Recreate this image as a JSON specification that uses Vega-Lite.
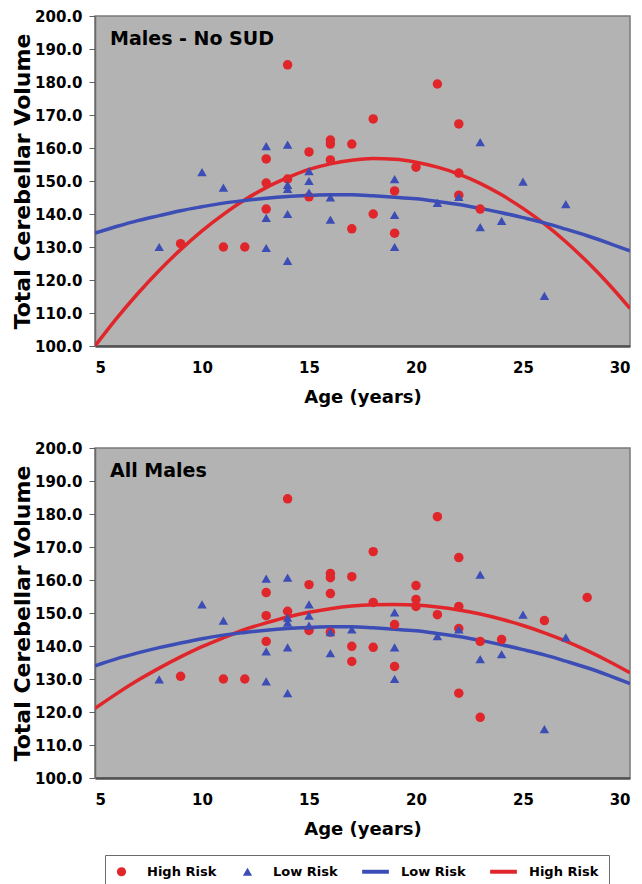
{
  "$schema": "https://vega.github.io/schema/vega-lite/v6.json",
  "padding": {"left": 10, "top": 8, "right": 5, "bottom": 5},
  "background": "white",
  "datasets": {
    "topPts": [
      {"age":9,"vol":131,"group":"HR_pt"},{"age":11,"vol":130,"group":"HR_pt"},{"age":12,"vol":130,"group":"HR_pt"},
      {"age":13,"vol":156.7,"group":"HR_pt"},{"age":13,"vol":149.4,"group":"HR_pt"},{"age":13,"vol":141.5,"group":"HR_pt"},
      {"age":14,"vol":185.2,"group":"HR_pt"},{"age":14,"vol":150.6,"group":"HR_pt"},{"age":15,"vol":158.8,"group":"HR_pt"},
      {"age":15,"vol":145.2,"group":"HR_pt"},{"age":16,"vol":162.4,"group":"HR_pt"},{"age":16,"vol":161.2,"group":"HR_pt"},
      {"age":16,"vol":156.4,"group":"HR_pt"},{"age":17,"vol":161.2,"group":"HR_pt"},{"age":17,"vol":135.5,"group":"HR_pt"},
      {"age":18,"vol":168.8,"group":"HR_pt"},{"age":18,"vol":140,"group":"HR_pt"},{"age":19,"vol":147,"group":"HR_pt"},
      {"age":19,"vol":134.2,"group":"HR_pt"},{"age":20,"vol":154.2,"group":"HR_pt"},{"age":21,"vol":179.4,"group":"HR_pt"},
      {"age":22,"vol":167.3,"group":"HR_pt"},{"age":22,"vol":152.4,"group":"HR_pt"},{"age":22,"vol":145.7,"group":"HR_pt"},
      {"age":23,"vol":141.5,"group":"HR_pt"},
      {"age":8,"vol":130,"group":"LR_pt"},{"age":10,"vol":152.7,"group":"LR_pt"},{"age":11,"vol":148,"group":"LR_pt"},
      {"age":13,"vol":160.6,"group":"LR_pt"},{"age":13,"vol":138.8,"group":"LR_pt"},{"age":13,"vol":129.7,"group":"LR_pt"},
      {"age":14,"vol":161,"group":"LR_pt"},{"age":14,"vol":148.8,"group":"LR_pt"},{"age":14,"vol":147.6,"group":"LR_pt"},
      {"age":14,"vol":140,"group":"LR_pt"},{"age":14,"vol":125.8,"group":"LR_pt"},{"age":15,"vol":153,"group":"LR_pt"},
      {"age":15,"vol":150,"group":"LR_pt"},{"age":15,"vol":146.5,"group":"LR_pt"},{"age":16,"vol":145,"group":"LR_pt"},
      {"age":16,"vol":138.3,"group":"LR_pt"},{"age":19,"vol":150.6,"group":"LR_pt"},{"age":19,"vol":139.7,"group":"LR_pt"},
      {"age":19,"vol":130,"group":"LR_pt"},{"age":21,"vol":143.4,"group":"LR_pt"},{"age":22,"vol":145.2,"group":"LR_pt"},
      {"age":23,"vol":161.8,"group":"LR_pt"},{"age":23,"vol":136,"group":"LR_pt"},{"age":24,"vol":137.9,"group":"LR_pt"},
      {"age":25,"vol":149.8,"group":"LR_pt"},{"age":26,"vol":115.2,"group":"LR_pt"},{"age":27,"vol":143,"group":"LR_pt"}
    ],
    "topFit": [
      {"age":5,"vol":100.0,"group":"HR_fit"},{"age":6,"vol":108.3,"group":"HR_fit"},{"age":7,"vol":115.9,"group":"HR_fit"},
      {"age":8,"vol":122.9,"group":"HR_fit"},{"age":9,"vol":129.2,"group":"HR_fit"},{"age":10,"vol":134.9,"group":"HR_fit"},
      {"age":11,"vol":139.9,"group":"HR_fit"},{"age":12,"vol":144.3,"group":"HR_fit"},{"age":13,"vol":148.0,"group":"HR_fit"},
      {"age":14,"vol":151.0,"group":"HR_fit"},{"age":15,"vol":153.5,"group":"HR_fit"},{"age":16,"vol":155.2,"group":"HR_fit"},
      {"age":17,"vol":156.3,"group":"HR_fit"},{"age":18,"vol":156.8,"group":"HR_fit"},{"age":19,"vol":156.6,"group":"HR_fit"},
      {"age":20,"vol":155.7,"group":"HR_fit"},{"age":21,"vol":154.2,"group":"HR_fit"},{"age":22,"vol":152.1,"group":"HR_fit"},
      {"age":23,"vol":149.3,"group":"HR_fit"},{"age":24,"vol":145.8,"group":"HR_fit"},{"age":25,"vol":141.7,"group":"HR_fit"},
      {"age":26,"vol":137.0,"group":"HR_fit"},{"age":27,"vol":131.6,"group":"HR_fit"},{"age":28,"vol":125.5,"group":"HR_fit"},
      {"age":29,"vol":118.8,"group":"HR_fit"},{"age":30,"vol":111.4,"group":"HR_fit"},
      {"age":5,"vol":134.2,"group":"LR_fit"},{"age":6,"vol":136.2,"group":"LR_fit"},{"age":7,"vol":138.0,"group":"LR_fit"},
      {"age":8,"vol":139.5,"group":"LR_fit"},{"age":9,"vol":141.0,"group":"LR_fit"},{"age":10,"vol":142.2,"group":"LR_fit"},
      {"age":11,"vol":143.3,"group":"LR_fit"},{"age":12,"vol":144.1,"group":"LR_fit"},{"age":13,"vol":144.8,"group":"LR_fit"},
      {"age":14,"vol":145.3,"group":"LR_fit"},{"age":15,"vol":145.6,"group":"LR_fit"},{"age":16,"vol":145.8,"group":"LR_fit"},
      {"age":17,"vol":145.8,"group":"LR_fit"},{"age":18,"vol":145.5,"group":"LR_fit"},{"age":19,"vol":145.1,"group":"LR_fit"},
      {"age":20,"vol":144.6,"group":"LR_fit"},{"age":21,"vol":143.8,"group":"LR_fit"},{"age":22,"vol":142.9,"group":"LR_fit"},
      {"age":23,"vol":141.7,"group":"LR_fit"},{"age":24,"vol":140.4,"group":"LR_fit"},{"age":25,"vol":138.9,"group":"LR_fit"},
      {"age":26,"vol":137.3,"group":"LR_fit"},{"age":27,"vol":135.4,"group":"LR_fit"},{"age":28,"vol":133.4,"group":"LR_fit"},
      {"age":29,"vol":131.2,"group":"LR_fit"},{"age":30,"vol":128.8,"group":"LR_fit"}
    ],
    "botPts": [
      {"age":9,"vol":130.8,"group":"HR_pt"},{"age":11,"vol":130,"group":"HR_pt"},{"age":12,"vol":130,"group":"HR_pt"},
      {"age":13,"vol":156.2,"group":"HR_pt"},{"age":13,"vol":149.2,"group":"HR_pt"},{"age":13,"vol":141.4,"group":"HR_pt"},
      {"age":14,"vol":184.6,"group":"HR_pt"},{"age":14,"vol":150.5,"group":"HR_pt"},{"age":15,"vol":158.6,"group":"HR_pt"},
      {"age":15,"vol":144.7,"group":"HR_pt"},{"age":16,"vol":162,"group":"HR_pt"},{"age":16,"vol":160.7,"group":"HR_pt"},
      {"age":16,"vol":155.9,"group":"HR_pt"},{"age":16,"vol":144.2,"group":"HR_pt"},{"age":17,"vol":161,"group":"HR_pt"},
      {"age":17,"vol":139.9,"group":"HR_pt"},{"age":17,"vol":135.3,"group":"HR_pt"},{"age":18,"vol":168.6,"group":"HR_pt"},
      {"age":18,"vol":153.2,"group":"HR_pt"},{"age":18,"vol":139.6,"group":"HR_pt"},{"age":19,"vol":146.5,"group":"HR_pt"},
      {"age":19,"vol":133.8,"group":"HR_pt"},{"age":20,"vol":158.3,"group":"HR_pt"},{"age":20,"vol":154.1,"group":"HR_pt"},
      {"age":20,"vol":152,"group":"HR_pt"},{"age":21,"vol":179.2,"group":"HR_pt"},{"age":21,"vol":149.5,"group":"HR_pt"},
      {"age":22,"vol":166.8,"group":"HR_pt"},{"age":22,"vol":152,"group":"HR_pt"},{"age":22,"vol":145.3,"group":"HR_pt"},
      {"age":22,"vol":125.7,"group":"HR_pt"},{"age":23,"vol":141.4,"group":"HR_pt"},{"age":23,"vol":118.4,"group":"HR_pt"},
      {"age":24,"vol":142,"group":"HR_pt"},{"age":26,"vol":147.7,"group":"HR_pt"},{"age":28,"vol":154.7,"group":"HR_pt"},
      {"age":8,"vol":129.9,"group":"LR_pt"},{"age":10,"vol":152.6,"group":"LR_pt"},{"age":11,"vol":147.7,"group":"LR_pt"},
      {"age":13,"vol":160.4,"group":"LR_pt"},{"age":13,"vol":138.4,"group":"LR_pt"},{"age":13,"vol":129.3,"group":"LR_pt"},
      {"age":14,"vol":160.7,"group":"LR_pt"},{"age":14,"vol":148.6,"group":"LR_pt"},{"age":14,"vol":147.1,"group":"LR_pt"},
      {"age":14,"vol":139.6,"group":"LR_pt"},{"age":14,"vol":125.7,"group":"LR_pt"},{"age":15,"vol":152.6,"group":"LR_pt"},
      {"age":15,"vol":149.2,"group":"LR_pt"},{"age":15,"vol":146.2,"group":"LR_pt"},{"age":16,"vol":144.2,"group":"LR_pt"},
      {"age":16,"vol":137.8,"group":"LR_pt"},{"age":17,"vol":145,"group":"LR_pt"},{"age":19,"vol":150.2,"group":"LR_pt"},
      {"age":19,"vol":139.6,"group":"LR_pt"},{"age":19,"vol":130,"group":"LR_pt"},{"age":21,"vol":143,"group":"LR_pt"},
      {"age":22,"vol":145,"group":"LR_pt"},{"age":23,"vol":161.6,"group":"LR_pt"},{"age":23,"vol":136,"group":"LR_pt"},
      {"age":24,"vol":137.5,"group":"LR_pt"},{"age":25,"vol":149.5,"group":"LR_pt"},{"age":26,"vol":114.8,"group":"LR_pt"},
      {"age":27,"vol":142.6,"group":"LR_pt"}
    ],
    "botFit": [
      {"age":5,"vol":121.1,"group":"HR_fit"},{"age":6,"vol":125.5,"group":"HR_fit"},{"age":7,"vol":129.6,"group":"HR_fit"},
      {"age":8,"vol":133.3,"group":"HR_fit"},{"age":9,"vol":136.7,"group":"HR_fit"},{"age":10,"vol":139.8,"group":"HR_fit"},
      {"age":11,"vol":142.5,"group":"HR_fit"},{"age":12,"vol":145.0,"group":"HR_fit"},{"age":13,"vol":147.0,"group":"HR_fit"},
      {"age":14,"vol":148.8,"group":"HR_fit"},{"age":15,"vol":150.2,"group":"HR_fit"},{"age":16,"vol":151.3,"group":"HR_fit"},
      {"age":17,"vol":152.1,"group":"HR_fit"},{"age":18,"vol":152.5,"group":"HR_fit"},{"age":19,"vol":152.6,"group":"HR_fit"},
      {"age":20,"vol":152.4,"group":"HR_fit"},{"age":21,"vol":151.8,"group":"HR_fit"},{"age":22,"vol":150.9,"group":"HR_fit"},
      {"age":23,"vol":149.7,"group":"HR_fit"},{"age":24,"vol":148.1,"group":"HR_fit"},{"age":25,"vol":146.2,"group":"HR_fit"},
      {"age":26,"vol":144.0,"group":"HR_fit"},{"age":27,"vol":141.5,"group":"HR_fit"},{"age":28,"vol":138.6,"group":"HR_fit"},
      {"age":29,"vol":135.4,"group":"HR_fit"},{"age":30,"vol":131.9,"group":"HR_fit"},
      {"age":5,"vol":134.0,"group":"LR_fit"},{"age":6,"vol":136.1,"group":"LR_fit"},{"age":7,"vol":137.9,"group":"LR_fit"},
      {"age":8,"vol":139.5,"group":"LR_fit"},{"age":9,"vol":140.9,"group":"LR_fit"},{"age":10,"vol":142.2,"group":"LR_fit"},
      {"age":11,"vol":143.3,"group":"LR_fit"},{"age":12,"vol":144.1,"group":"LR_fit"},{"age":13,"vol":144.8,"group":"LR_fit"},
      {"age":14,"vol":145.3,"group":"LR_fit"},{"age":15,"vol":145.6,"group":"LR_fit"},{"age":16,"vol":145.8,"group":"LR_fit"},
      {"age":17,"vol":145.8,"group":"LR_fit"},{"age":18,"vol":145.5,"group":"LR_fit"},{"age":19,"vol":145.1,"group":"LR_fit"},
      {"age":20,"vol":144.6,"group":"LR_fit"},{"age":21,"vol":143.8,"group":"LR_fit"},{"age":22,"vol":142.9,"group":"LR_fit"},
      {"age":23,"vol":141.7,"group":"LR_fit"},{"age":24,"vol":140.4,"group":"LR_fit"},{"age":25,"vol":138.9,"group":"LR_fit"},
      {"age":26,"vol":137.3,"group":"LR_fit"},{"age":27,"vol":135.4,"group":"LR_fit"},{"age":28,"vol":133.4,"group":"LR_fit"},
      {"age":29,"vol":131.1,"group":"LR_fit"},{"age":30,"vol":128.6,"group":"LR_fit"}
    ]
  },
  "spacing": 33,
  "resolve": {"scale": {"color": "shared", "shape": "shared"}},
  "vconcat": [
    {
      "width": 535, "height": 330,
      "title": {"text": "Males - No SUD", "anchor": "start", "frame": "group", "baseline": "top", "offset": -40, "dx": 15, "fontSize": 19},
      "layer": [
        {
          "data": {"name": "topFit"},
          "mark": {"type": "line", "strokeWidth": 3.5, "interpolate": "monotone", "clip": true},
          "encoding": {
            "x": {"field": "age", "type": "quantitative", "scale": {"domain": [5, 30], "nice": false, "zero": false}, "axis": {"values": [5,10,15,20,25,30], "title": "Age (years)", "labelOverlap": false}},
            "y": {"field": "vol", "type": "quantitative", "scale": {"domain": [100, 200], "nice": false, "zero": false}, "axis": {"values": [100,110,120,130,140,150,160,170,180,190,200], "tickCount": 11, "format": ".1f", "title": "Total Cerebellar Volume", "labelOverlap": false}},
            "color": {"field": "group", "type": "nominal"}
          }
        },
        {
          "data": {"name": "topPts"},
          "mark": {"type": "point", "filled": true, "size": 90, "opacity": 1},
          "encoding": {
            "x": {"field": "age", "type": "quantitative", "scale": {"domain": [5, 30], "nice": false, "zero": false}, "axis": {"values": [5,10,15,20,25,30], "title": "Age (years)", "labelOverlap": false}},
            "y": {"field": "vol", "type": "quantitative", "scale": {"domain": [100, 200], "nice": false, "zero": false}, "axis": {"values": [100,110,120,130,140,150,160,170,180,190,200], "tickCount": 11, "format": ".1f", "title": "Total Cerebellar Volume", "labelOverlap": false}},
            "color": {"field": "group", "type": "nominal"},
            "shape": {"field": "group", "type": "nominal"}
          }
        }
      ]
    },
    {
      "width": 535, "height": 330,
      "title": {"text": "All Males", "anchor": "start", "frame": "group", "baseline": "top", "offset": -40, "dx": 15, "fontSize": 19},
      "layer": [
        {
          "data": {"name": "botFit"},
          "mark": {"type": "line", "strokeWidth": 3.5, "interpolate": "monotone", "clip": true},
          "encoding": {
            "x": {"field": "age", "type": "quantitative", "scale": {"domain": [5, 30], "nice": false, "zero": false}, "axis": {"values": [5,10,15,20,25,30], "title": "Age (years)", "labelOverlap": false}},
            "y": {"field": "vol", "type": "quantitative", "scale": {"domain": [100, 200], "nice": false, "zero": false}, "axis": {"values": [100,110,120,130,140,150,160,170,180,190,200], "tickCount": 11, "format": ".1f", "title": "Total Cerebellar Volume", "labelOverlap": false}},
            "color": {"field": "group", "type": "nominal"}
          }
        },
        {
          "data": {"name": "botPts"},
          "mark": {"type": "point", "filled": true, "size": 90, "opacity": 1},
          "encoding": {
            "x": {"field": "age", "type": "quantitative", "scale": {"domain": [5, 30], "nice": false, "zero": false}, "axis": {"values": [5,10,15,20,25,30], "title": "Age (years)", "labelOverlap": false}},
            "y": {"field": "vol", "type": "quantitative", "scale": {"domain": [100, 200], "nice": false, "zero": false}, "axis": {"values": [100,110,120,130,140,150,160,170,180,190,200], "tickCount": 11, "format": ".1f", "title": "Total Cerebellar Volume", "labelOverlap": false}},
            "color": {
              "field": "group", "type": "nominal",
              "scale": {"domain": ["HR_pt", "LR_pt", "LR_fit", "HR_fit"], "range": ["#e0262b", "#3c4db5", "#3c4db5", "#e0262b"]},
              "legend": {
                "title": null, "orient": "none", "legendX": 10, "legendY": 839, "direction": "horizontal", "columns": 4,
                "labelExpr": "indexof(datum.value, 'HR') == 0 ? 'High Risk' : 'Low Risk'",
                "symbolSize": 85, "symbolStrokeWidth": 0, "columnPadding": 24, "labelOffset": 19, "padding": 10,
                "strokeColor": "#6b6b6b", "fillColor": "white",
                "labelFont": "DejaVu Sans", "labelFontWeight": "bold", "labelFontSize": 13, "labelColor": "black"
              }
            },
            "shape": {
              "field": "group", "type": "nominal",
              "scale": {"domain": ["HR_pt", "LR_pt", "LR_fit", "HR_fit"], "range": ["circle", "triangle-up", "M-2.9,-0.43L2.9,-0.43L2.9,0.43L-2.9,0.43Z", "M-2.9,-0.43L2.9,-0.43L2.9,0.43L-2.9,0.43Z"]}
            }
          }
        }
      ]
    }
  ],
  "config": {
    "font": "DejaVu Sans",
    "view": {"fill": "#b3b3b3", "stroke": "#7a7a7a", "strokeWidth": 1.5},
    "title": {"font": "DejaVu Sans", "fontWeight": "bold", "color": "black"},
    "axis": {
      "grid": false, "labelOverlap": false,
      "labelFont": "DejaVu Sans", "labelFontWeight": "bold", "labelFontSize": 15, "labelColor": "black",
      "titleFont": "DejaVu Sans", "titleFontWeight": "bold", "titleColor": "black"
    },
    "axisX": {"ticks": false, "tickSize": 0, "labelPadding": 14, "domainColor": "#505050", "domainWidth": 2.5, "titleFontSize": 18, "titlePadding": 13},
    "axisY": {"tickSize": 6, "tickColor": "#606060", "labelPadding": 7, "domainColor": "#6a6a6a", "domainWidth": 1.5, "titleFontSize": 22, "titlePadding": 0}
  }
}
